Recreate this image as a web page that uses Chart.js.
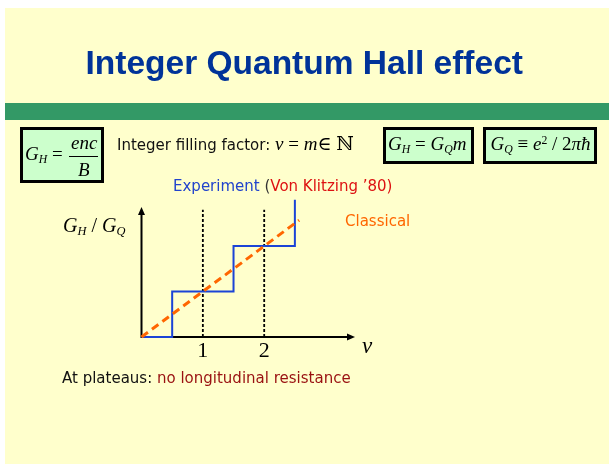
<!DOCTYPE html>
<html>
<head>
<meta charset="utf-8">
<script src="https://cdn.jsdelivr.net/npm/chart.js@4/dist/chart.umd.min.js"></script>
<style>
  html, body { margin: 0; padding: 0; background: #ffffff; }
  #page { position: relative; width: 609px; height: 464px; overflow: hidden; background: #ffffff; }
  #slide { position: absolute; left: 5px; top: 8px; width: 604px; height: 456px; background: #FFFFCC; }
  #band { position: absolute; left: 5px; top: 103px; width: 604px; height: 17px; background: #339966; }
  .box { position: absolute; box-sizing: border-box; border: 3px solid #000; background: #CCFFCC; }
  .t { position: absolute; white-space: nowrap; z-index: 3; line-height: 1.2; }
  .bl { display: inline-block; width: 0; height: 0; vertical-align: baseline; }
  .title { font: bold 33.5px "Liberation Sans", Arial, sans-serif; color: #003399; }
  .sans { font: 15px "DejaVu Sans", Verdana, sans-serif; color: #111; }
  .m { font-family: "Liberation Serif", "Times New Roman", "DejaVu Serif", serif; font-style: italic; font-size: 19px; color: #000; }
  .m .up { font-style: normal; }
  .m sub { font-size: 0.62em; vertical-align: -0.28em; line-height: 0; }
  .m sup { font-size: 0.62em; vertical-align: 0.5em; line-height: 0; }
  .ds { font-family: "DejaVu Serif", serif; font-style: normal; }
  #fracbar { position: absolute; left: 69px; top: 156px; width: 29px; height: 1px; background: #000; z-index: 3; }
  canvas { position: absolute; left: 0; top: 0; z-index: 2; }
</style>
</head>
<body>
<div id="page">
  <div id="slide"></div>
  <div id="band"></div>

  <div class="box" style="left:20px;top:127px;width:84px;height:56px;"></div>
  <div class="box" style="left:383px;top:127px;width:91px;height:37px;"></div>
  <div class="box" style="left:483px;top:127px;width:114px;height:37px;"></div>

  <div class="t title" data-x="304" data-y="73.5" data-a="c">Integer Quantum Hall effect</div>

  <!-- G_H = enc / B -->
  <div class="t m" data-x="25" data-y="160"><i>G</i><sub>H</sub> <span class="up">=</span></div>
  <div class="t m" data-x="84" data-y="149" data-a="c">enc</div>
  <div id="fracbar"></div>
  <div class="t m" data-x="84" data-y="176" data-a="c">B</div>

  <div class="t sans" data-x="117" data-y="150">Integer filling factor: <span class="m">ν <span class="up">=</span> m<span class="up ds">∈</span> <span class="ds">ℕ</span></span></div>

  <div class="t m" data-x="388" data-y="149.5">G<sub>H</sub> <span class="up">=</span> G<sub>Q</sub>m</div>
  <div class="t m" data-x="490.5" data-y="149.5">G<sub>Q</sub> <span class="up">≡</span> e<sup class="up">2</sup> <span class="up">/</span> <span class="up">2</span>πħ</div>

  <div class="t sans" data-x="173" data-y="190.5"><span style="color:#2244CC">Experiment</span> <span style="color:#333">(</span><span style="color:#DD1111">Von Klitzing ’80)</span></div>
  <div class="t sans" data-x="345" data-y="226" style="color:#FF6600">Classical</div>

  <div class="t m" data-x="63" data-y="232" style="font-size:20px">G<sub>H</sub> <span class="up">/</span> G<sub>Q</sub></div>
  <div class="t m" data-x="362" data-y="353" style="font-size:23px">ν</div>

  <div class="t sans" data-x="62" data-y="383" style="color:#111">At plateaus: <span style="color:#991111">no longitudinal resistance</span></div>

  <canvas id="c" width="609" height="464"></canvas>
</div>

<script>
// Filling factor ticks marked on the horizontal axis
const nuTicks = [1, 2];
const nuTickLabels = ['1', '2'];

// Measured Hall conductance (Von Klitzing): plateaus between the jumps
const expNu = [0, 0.5, 1.5, 2.5];
const expG  = [0, 1, 2, 3.02];

// Classical expectation: conductance grows linearly with filling factor
const classicalNu = [0, 2.57];
const classicalG  = [0, 2.57];

// Height reached by the dotted guide lines at integer filling
const guideTop = [2.8, 2.8];

// Axis extents
const nuMax = 3.48;
const gMax = 2.86;

// Place each text block so that its baseline lands on data-y
document.querySelectorAll('.t').forEach(el => {
  const mark = document.createElement('span');
  mark.className = 'bl';
  el.insertBefore(mark, el.firstChild);
  el.style.left = '0px';
  el.style.top = '0px';
  const base = mark.offsetTop;
  const w = el.offsetWidth;
  const x = parseFloat(el.dataset.x);
  const y = parseFloat(el.dataset.y);
  el.style.left = (el.dataset.a === 'c' ? x - w / 2 : x) + 'px';
  el.style.top = (y - base) + 'px';
});

const pts = (xs, ys) => xs.map((x, i) => ({ x, y: ys[i] }));

const datasets = [
  {
    label: 'Experiment (Von Klitzing ’80)',
    data: pts(expNu, expG),
    stepped: 'before',
    borderColor: '#1B44D6',
    borderWidth: 2,
    pointRadius: 0,
    fill: false,
    clip: false,
    order: 2
  },
  {
    label: 'Classical',
    data: pts(classicalNu, classicalG),
    borderColor: '#FF6600',
    borderWidth: 3,
    borderDash: [8, 5],
    borderCapStyle: 'butt',
    pointRadius: 0,
    fill: false,
    clip: false,
    order: 1
  }
];
nuTicks.forEach((v, i) => {
  datasets.push({
    label: 'ν = ' + nuTickLabels[i],
    data: [{ x: v, y: 0 }, { x: v, y: guideTop[i] }],
    borderColor: '#000000',
    borderWidth: 1.8,
    borderDash: [3, 2],
    pointRadius: 0,
    fill: false,
    clip: false,
    order: 3
  });
});

// Axis lines with arrow heads, drawn beneath the curves
const arrowAxes = {
  id: 'arrowAxes',
  beforeDatasetsDraw(chart) {
    const { ctx, chartArea: a } = chart;
    ctx.save();
    ctx.strokeStyle = '#000';
    ctx.fillStyle = '#000';
    ctx.lineWidth = 2;
    ctx.setLineDash([]);
    ctx.beginPath();
    ctx.moveTo(a.left - 1, a.bottom);
    ctx.lineTo(a.right - 6, a.bottom);
    ctx.moveTo(a.left, a.bottom + 1);
    ctx.lineTo(a.left, a.top + 6);
    ctx.stroke();
    ctx.beginPath();
    ctx.moveTo(a.right, a.bottom);
    ctx.lineTo(a.right - 8, a.bottom - 3.5);
    ctx.lineTo(a.right - 8, a.bottom + 3.5);
    ctx.closePath();
    ctx.fill();
    ctx.beginPath();
    ctx.moveTo(a.left, a.top);
    ctx.lineTo(a.left - 3.5, a.top + 8);
    ctx.lineTo(a.left + 3.5, a.top + 8);
    ctx.closePath();
    ctx.fill();
    ctx.restore();
  }
};

new Chart(document.getElementById('c'), {
  type: 'line',
  data: { datasets },
  options: {
    responsive: false,
    animation: false,
    events: [],
    layout: { padding: { left: 141.5, top: 207, right: 254, bottom: 97 } },
    plugins: { legend: { display: false }, tooltip: { enabled: false } },
    scales: {
      x: {
        type: 'linear',
        min: 0,
        max: nuMax,
        afterFit: (s) => { s.height = 30; },
        afterBuildTicks: (s) => { s.ticks = nuTicks.map(v => ({ value: v })); },
        grid: { display: false, drawTicks: false },
        border: { display: false },
        ticks: {
          padding: 1,
          color: '#000',
          font: { family: '"Liberation Serif", "Times New Roman", serif', size: 22 },
          callback: (v) => nuTickLabels[nuTicks.indexOf(v)]
        }
      },
      y: {
        type: 'linear',
        min: 0,
        max: gMax,
        display: false
      }
    }
  },
  plugins: [arrowAxes]
});
</script>
</body>
</html>
